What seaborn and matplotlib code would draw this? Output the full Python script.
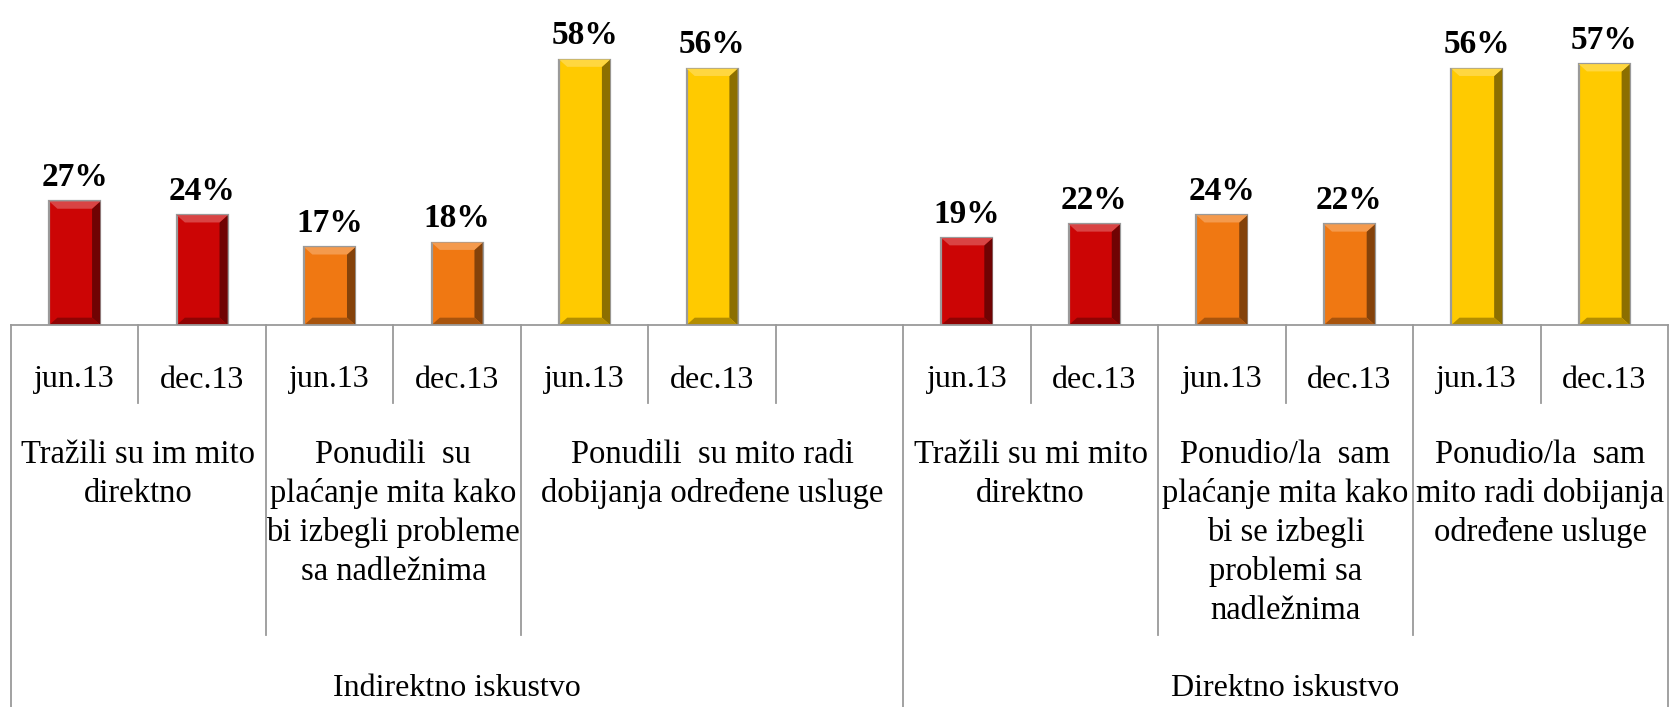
import numpy as np
import pandas as pd
import matplotlib
matplotlib.use("Agg")
import matplotlib.pyplot as plt
import matplotlib.transforms as mtransforms
from matplotlib.patches import Polygon
from matplotlib.colors import to_rgb
import seaborn as sns

# Data
groups = ["Indirektno iskustvo", "Direktno iskustvo"]
categories = [
    "Tražili su im mito\ndirektno",
    "Ponudili  su\nplaćanje mita kako\nbi izbegli probleme\nsa nadležnima",
    "Ponudili  su mito radi\ndobijanja određene usluge",
    "Tražili su mi mito\ndirektno",
    "Ponudio/la  sam\nplaćanje mita kako\nbi se izbegli\nproblemi sa\nnadležnima",
    "Ponudio/la  sam\nmito radi dobijanja\nodređene usluge",
]
category_group = [0, 0, 0, 1, 1, 1]
category_kind = ["trazili", "problemi", "usluge", "trazili", "problemi", "usluge"]
periods = ["jun.13", "dec.13"]
values = [27, 24, 17, 18, 58, 56, 19, 22, 24, 22, 56, 57]
# one empty slot follows the last category of the first group
empty_after = [2]

palette = {"trazili": "#CC0505", "problemi": "#F07812", "usluge": "#FFCA00"}

# build long table + slot order
rows = []
order = []
cat_slots = []
k = 0
for ci, cat in enumerate(categories):
    slots = []
    for p in periods:
        key = f"s{k}"
        rows.append({"slot": key, "value": values[k], "kind": category_kind[ci],
                     "period": p, "cat": ci})
        order.append(key)
        slots.append(len(order) - 1)
        k += 1
    if ci in empty_after:
        order.append(f"gap{ci}")
        slots.append(len(order) - 1)
    cat_slots.append(slots)
df = pd.DataFrame(rows)

W, H = 1673, 707
fig = plt.figure(figsize=(W / 100, H / 100), dpi=100)
ax = fig.add_axes([11 / W, 1 - 325 / H, 1657 / W, 325 / H])

sns.barplot(data=df, x="slot", y="value", hue="kind", order=order,
            palette=palette, dodge=False, width=0.4, legend=False, saturation=1,
            edgecolor="#9a9a9a", linewidth=1.6, ax=ax)

ax.set_ylim(0, 71)
ax.set_xlim(-0.5, len(order) - 0.5)
ax.set_xlabel("")
ax.set_ylabel("")
ax.set_xticks([])
ax.set_yticks([])
for s in ax.spines.values():
    s.set_visible(False)

# bevel shading on each bar (from the drawn patches)
for p in list(ax.patches):
    x0, y0 = p.get_x(), p.get_y()
    w, h = p.get_width(), p.get_height()
    if not h == h or h <= 0:
        continue
    base = np.array(to_rgb(p.get_facecolor()))
    dark = tuple(base * 0.55)
    light = tuple(np.clip(base + (1 - base) * 0.25, 0, 1))
    bw = w * 0.16
    bh = 1.6
    z = p.get_zorder() + 0.1
    ax.add_patch(Polygon([(x0 + w - bw, y0 + bh), (x0 + w, y0), (x0 + w, y0 + h),
                          (x0 + w - bw, y0 + h - bh)], closed=True,
                         facecolor=dark, edgecolor="none", zorder=z))
    ax.add_patch(Polygon([(x0, y0 + h), (x0 + w, y0 + h), (x0 + w - bw, y0 + h - bh),
                          (x0 + bw, y0 + h - bh)], closed=True,
                         facecolor=light, edgecolor="none", zorder=z))
    ax.add_patch(Polygon([(x0, y0), (x0 + w, y0), (x0 + w - bw, y0 + bh),
                          (x0 + bw, y0 + bh)], closed=True,
                         facecolor=tuple(base * 0.7), edgecolor="none", zorder=z))

lab_font = dict(family=["Liberation Serif", "DejaVu Serif"])
for c in ax.containers:
    ax.bar_label(c, labels=[f"{v:.0f}%" if v == v else "" for v in c.datavalues],
                 padding=6, fontsize=24, fontweight="bold", **lab_font)

# table under the axis
tr = mtransforms.blended_transform_factory(ax.transData, fig.transFigure)
y_base = 1 - 325 / H
y_row1 = 1 - 403 / H
y_row2 = 1 - 635 / H
line_kw = dict(color="#9a9a9a", lw=1.3, transform=tr, clip_on=False)

ax.plot([-0.5, len(order) - 0.5], [y_base, y_base], **line_kw)

slot_period = {}
for r in rows:
    slot_period[order.index(r["slot"])] = r["period"]

cat_edges = set()
group_edges = set()
for ci, slots in enumerate(cat_slots):
    cat_edges.add(slots[0] - 0.5)
    cat_edges.add(slots[-1] + 0.5)
for g in range(len(groups)):
    sl = [s for ci, ss in enumerate(cat_slots) if category_group[ci] == g for s in ss]
    group_edges.add(min(sl) - 0.5)
    group_edges.add(max(sl) + 0.5)

for b in np.arange(-0.5, len(order), 1.0):
    if b in group_edges:
        y_end = 0
    elif b in cat_edges:
        y_end = y_row2
    else:
        y_end = y_row1
    ax.plot([b, b], [y_base, y_end], **line_kw)

for i, p in slot_period.items():
    ax.text(i, 1 - 380 / H, p, transform=tr, ha="center", va="center",
            fontsize=23, **lab_font)

for ci, slots in enumerate(cat_slots):
    xc = (slots[0] + slots[-1]) / 2
    ax.text(xc, 1 - 440 / H, categories[ci], transform=tr, ha="center", va="top",
            fontsize=23.5, linespacing=1.33, **lab_font)

for g, name in enumerate(groups):
    sl = [s for ci, ss in enumerate(cat_slots) if category_group[ci] == g for s in ss]
    ax.text((min(sl) + max(sl)) / 2, 1 - 688 / H, name, transform=tr,
            ha="center", va="center", fontsize=23, **lab_font)

fig.savefig("out.png", dpi=100)
